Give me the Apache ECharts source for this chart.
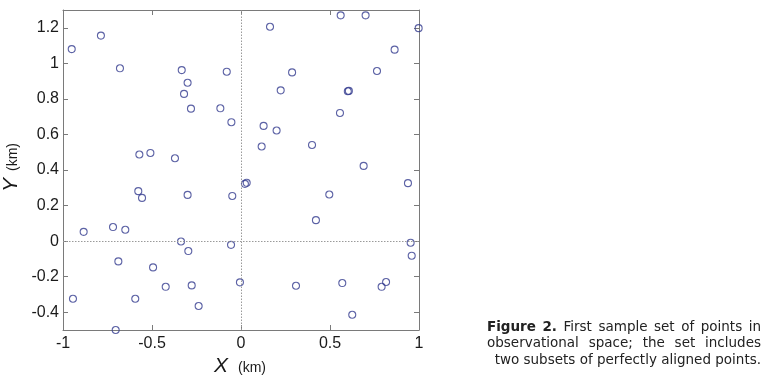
<!DOCTYPE html>
<html><head><meta charset="utf-8">
<script src="https://cdn.jsdelivr.net/npm/echarts@6/dist/echarts.min.js"></script>
<style>html,body{margin:0;padding:0;background:#fff}#c{width:762px;height:376px}</style>
</head><body><div id="c"></div>
<script>
const xs = [-0.951,-0.787,-0.680,-0.333,-0.300,-0.320,-0.281,-0.080,-0.116,-0.054,-0.571,-0.509,-0.371,
  0.163,0.560,0.700,0.998,0.863,0.287,0.764,0.223,0.600,0.606,0.556,0.127,0.200,0.116,0.399,0.689,
  -0.577,-0.556,-0.300,-0.049,0.022,0.032,-0.884,-0.719,-0.650,-0.337,-0.296,-0.056,-0.689,-0.494,
  -0.944,-0.594,-0.423,-0.277,-0.238,-0.006,-0.704,0.496,0.421,0.938,0.953,0.959,0.309,0.569,0.790,0.815,0.625];
const ys = [1.080,1.156,0.972,0.962,0.891,0.828,0.745,0.953,0.747,0.669,0.487,0.496,0.466,
  1.206,1.270,1.270,1.198,1.077,0.949,0.957,0.848,0.843,0.845,0.721,0.648,0.622,0.532,0.541,0.423,
  0.281,0.243,0.260,0.254,0.322,0.328,0.052,0.079,0.064,-0.002,-0.056,-0.021,-0.114,-0.148,
  -0.324,-0.324,-0.257,-0.249,-0.365,-0.232,-0.500,0.262,0.118,0.326,-0.009,-0.082,-0.251,-0.236,-0.257,-0.230,-0.414];
const xTicks = [-1,-0.5,0,0.5,1];
const yTicks = [-0.4,-0.2,0,0.2,0.4,0.6,0.8,1,1.2];
const xRange = [-1,1];
const yRange = [-0.5,1.3];
const captionBold = 'Figure 2.';
const captionLines = [
  'First sample set of points in',
  'observational space; the set includes',
  'two subsets of perfectly aligned points.'
];

const pts = xs.map((x,i)=>[x,ys[i]]);
const axisCol = '#7a7a7a';
const lblFont = {fontFamily:'Liberation Sans, Arial', fontSize:16, color:'#1a1a1a'};
function xAx(pos, show){
  return {type:'value', position:pos, min:xRange[0], max:xRange[1],
    axisLine:{show:true, onZero:false, lineStyle:{color:axisCol,width:1}},
    axisTick:{show:true, inside:true, length:5, customValues:xTicks, lineStyle:{color:axisCol}},
    axisLabel:Object.assign({show:show, customValues:xTicks, margin:6, formatter:v=>String(v)}, lblFont),
    splitLine:{show:false}};
}
function yAx(pos, show){
  return {type:'value', position:pos, min:yRange[0], max:yRange[1],
    axisLine:{show:true, onZero:false, lineStyle:{color:axisCol,width:1}},
    axisTick:{show:true, inside:true, length:5, customValues:yTicks, lineStyle:{color:axisCol}},
    axisLabel:Object.assign({show:show, customValues:yTicks, margin:4, formatter:v=>String(+v.toFixed(1))}, lblFont),
    splitLine:{show:false}};
}

// caption layout (justified lines, last line right-aligned)
const capSize = 13.5, capFam = 'DejaVu Sans', capL = 487, capR = 761, capY = [327, 343, 360];
const mctx = document.createElement('canvas').getContext('2d');
function wWidth(t, bold){ mctx.font = (bold?'bold ':'') + capSize + 'px "' + capFam + '"'; return mctx.measureText(t).width; }
const capGraphics = [];
captionLines.forEach((line, li)=>{
  let words = line.split(' ').map(t=>({t, b:false}));
  if(li===0) words = captionBold.split(' ').map(t=>({t,b:true})).concat(words);
  words.forEach(w=>w.w = wWidth(w.t, w.b));
  const total = words.reduce((s,w)=>s+w.w,0);
  let x, gap;
  if(li < captionLines.length-1){ gap = (capR-capL-total)/(words.length-1); x = capL; }
  else { gap = wWidth(' ', false); x = capR - total - gap*(words.length-1); }
  words.forEach(w=>{
    capGraphics.push({type:'text', x:x, y:capY[li], style:{text:w.t, fontFamily:capFam, fontSize:capSize, fontWeight:w.b?'bold':'normal', fill:'#222', align:'left', verticalAlign:'middle'}});
    x += w.w + gap;
  });
});

const chart = echarts.init(document.getElementById('c'), null, {renderer:'canvas'});
const ax = {fontFamily:'Liberation Sans, Arial', fill:'#1a1a1a', align:'center', verticalAlign:'middle'};
chart.setOption({
  animation:false,
  grid:{left:63, right:343, top:10, bottom:46},
  xAxis:[xAx('bottom',true), xAx('top',false)],
  yAxis:[yAx('left',true), yAx('right',false)],
  series:[{
    type:'scatter', data:pts, clip:false, symbol:'circle', symbolSize:7,
    itemStyle:{color:'rgba(0,0,0,0)', borderColor:'#333b8e', borderWidth:1.1},
    markLine:{silent:true, symbol:'none', label:{show:false},
      lineStyle:{color:'#9a9a9a', type:[1.5,1.5], width:1},
      data:[{xAxis:0},{yAxis:0}]}
  }],
  graphic:[
    {type:'text', x:221, y:366, style:Object.assign({text:'X', fontSize:21, fontStyle:'italic'}, ax)},
    {type:'text', x:252, y:368, style:Object.assign({text:'(km)', fontSize:14}, ax)},
    {type:'text', x:11, y:185, rotation:Math.PI/2, style:Object.assign({text:'Y', fontSize:21, fontStyle:'italic'}, ax)},
    {type:'text', x:13, y:157, rotation:Math.PI/2, style:Object.assign({text:'(km)', fontSize:14}, ax)}
  ].concat(capGraphics)
});
</script></body></html>
